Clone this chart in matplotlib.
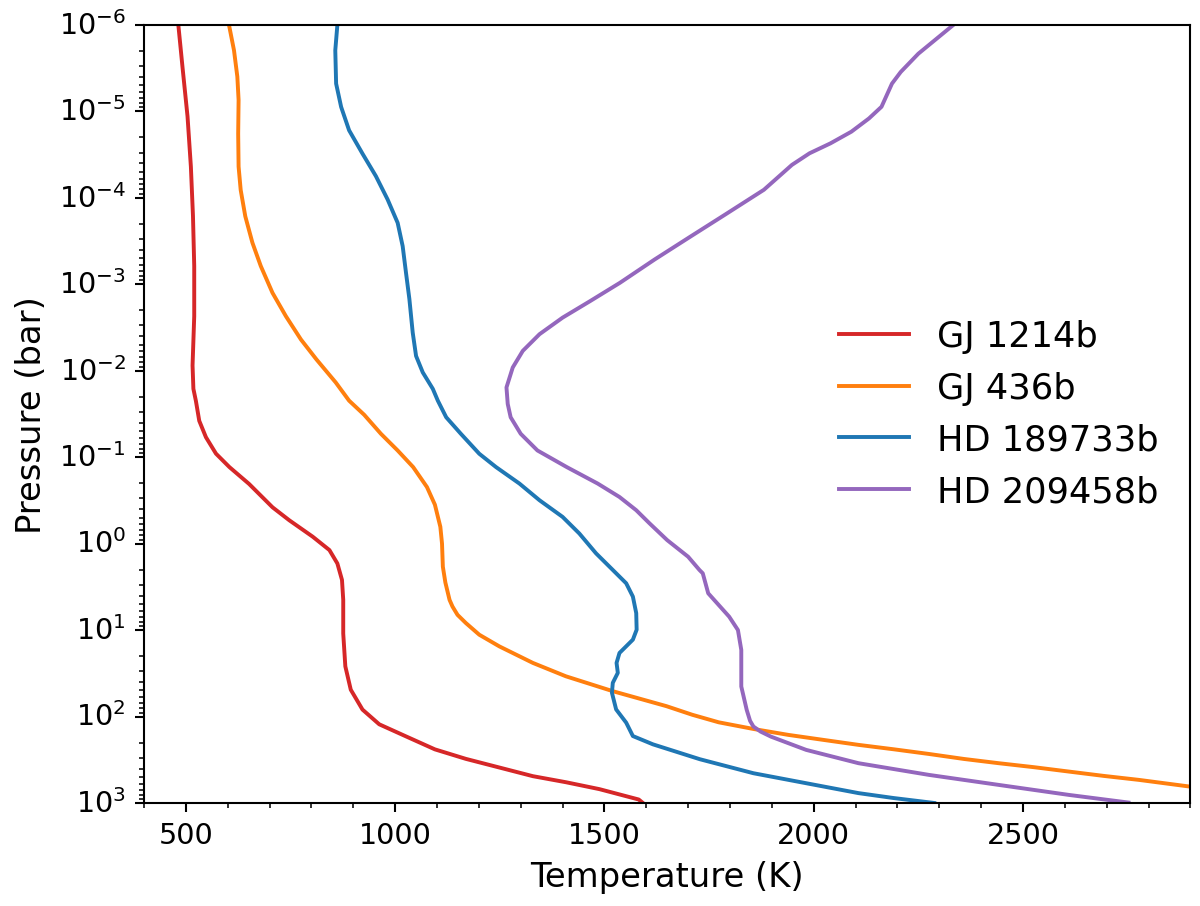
import numpy as np
import matplotlib
matplotlib.use("Agg")
import matplotlib.pyplot as plt
from matplotlib.ticker import AutoMinorLocator, LogLocator, NullFormatter

# P-T profiles: temperature in K, log10 of pressure in bar
gj1214_logp = [-6.0, -5.51, -4.94, -4.36, -3.79, -3.21, -2.63, -2.06, -1.79, -1.65,
               -1.42, -1.23, -1.04, -0.885, -0.69, -0.42, -0.27, -0.08, 0.075, 0.23,
               0.42, 0.65, 1.04, 1.42, 1.69, 1.92, 2.09, 2.23, 2.38, 2.49,
               2.59, 2.69, 2.76, 2.84, 2.96, 3.0]
gj1214_t = [482, 492, 504, 512, 517, 520, 520, 516, 518, 524,
            532, 548, 572, 604, 651, 707, 747, 803, 843, 862,
            873, 876, 876, 881, 894, 922, 962, 1026, 1095, 1169,
            1249, 1329, 1408, 1488, 1582, 1592]

gj436_logp = [-6.0, -5.705, -5.40, -5.13, -4.74, -4.36, -4.09, -3.785, -3.48, -3.21,
              -2.90, -2.63, -2.36, -2.13, -1.864, -1.653, -1.49, -1.27, -1.077, -0.885,
              -0.654, -0.45, -0.194, 0.0, 0.267, 0.45, 0.651, 0.728, 0.824, 0.919,
              1.054, 1.189, 1.38, 1.535, 1.707, 1.88, 1.98, 2.067, 2.144, 2.213,
              2.271, 2.328, 2.379, 2.433, 2.491, 2.54, 2.586, 2.637, 2.687, 2.733,
              2.81]
gj436_t = [603, 615, 623, 626, 625, 626, 631, 642, 659, 679,
           707, 739, 775, 812, 858, 890, 926, 966, 1006, 1043,
           1076, 1095, 1108, 1112, 1114, 1120, 1130, 1137, 1149, 1169,
           1201, 1249, 1329, 1408, 1520, 1648, 1710, 1773, 1856, 1940,
           2024, 2107, 2191, 2275, 2359, 2442, 2526, 2610, 2693, 2777,
           2898]

hd189_logp = [-6.0, -5.705, -5.32, -5.05, -4.78, -4.51, -4.25, -3.98, -3.71, -3.44,
              -3.13, -2.83, -2.44, -2.17, -1.98, -1.79, -1.653, -1.461, -1.27, -1.039,
              -0.885, -0.694, -0.501, -0.309, -0.117, 0.113, 0.305, 0.459, 0.613, 0.804,
              0.996, 1.111, 1.265, 1.38, 1.495, 1.611, 1.726, 1.918, 2.071, 2.226,
              2.322, 2.494, 2.656, 2.733, 2.81, 2.886, 2.943, 3.0]
hd189_t = [862, 857, 859, 871, 890, 922, 954, 982, 1006, 1018,
           1026, 1034, 1042, 1050, 1066, 1090, 1102, 1122, 1157, 1201,
           1241, 1297, 1345, 1400, 1440, 1480, 1520, 1552, 1568, 1576,
           1577, 1568, 1536, 1529, 1532, 1520, 1518, 1528, 1552, 1568,
           1616, 1728, 1856, 1940, 2024, 2107, 2191, 2288]

hd209_logp = [-6.0, -5.666, -5.455, -5.32, -5.052, -4.917, -4.764, -4.629, -4.514, -4.38,
              -4.092, -3.804, -3.546, -3.286, -3.016, -2.805, -2.613, -2.422, -2.229, -2.037,
              -1.806, -1.615, -1.461, -1.27, -1.077, -0.885, -0.694, -0.539, -0.386, -0.233,
              -0.04, 0.152, 0.305, 0.344, 0.575, 0.845, 1.0, 1.23, 1.653, 1.924,
              2.05, 2.116, 2.174, 2.233, 2.386, 2.54, 2.675, 2.791, 2.907, 2.995]
hd209_t = [2334, 2250, 2208, 2187, 2162, 2132, 2090, 2040, 1990, 1948,
           1881, 1788, 1704, 1620, 1537, 1466, 1400, 1345, 1305, 1281,
           1266, 1269, 1276, 1300, 1340, 1410, 1484, 1536, 1576, 1608,
           1650, 1700, 1727, 1735, 1748, 1798, 1819, 1827, 1827, 1840,
           1848, 1856, 1873, 1898, 1982, 2107, 2275, 2442, 2610, 2752]

planets = ["GJ 1214b", "GJ 436b", "HD 189733b", "HD 209458b"]
colors = ["tab:red", "tab:orange", "tab:blue", "tab:purple"]
profiles = [(gj1214_t, gj1214_logp), (gj436_t, gj436_logp),
            (hd189_t, hd189_logp), (hd209_t, hd209_logp)]
decades = np.arange(-6, 4)

fig = plt.figure(figsize=(6.4, 4.837), dpi=187.5)
ax = fig.add_axes([0.12, 0.1136, 0.872, 0.8580])

for name, col, (t, lp) in zip(planets, colors, profiles):
    ax.plot(t, 10.0 ** np.array(lp), color=col, lw=1.5, label=name)

ax.set_yscale("log")
ax.set_ylim(1e3, 1e-6)
ax.set_xlim(400, 2900)
# fixed decade labels, centred on the ticks so 10^-6 stays inside the figure
ax.set_yticks(10.0 ** decades, labels=[f"$10^{{{d}}}$" for d in decades], va="center")
ax.yaxis.set_minor_locator(LogLocator(base=10, subs=np.arange(2, 10), numticks=20))
ax.yaxis.set_minor_formatter(NullFormatter())
ax.xaxis.set_minor_locator(AutoMinorLocator())
ax.tick_params(labelsize=11)

ax.set_xlabel("Temperature (K)", fontsize=13)
ax.set_ylabel("Pressure (bar)", fontsize=13)
ax.legend(loc="center right", frameon=False, fontsize=13.5)

fig.savefig("out.png", dpi=187.5)
